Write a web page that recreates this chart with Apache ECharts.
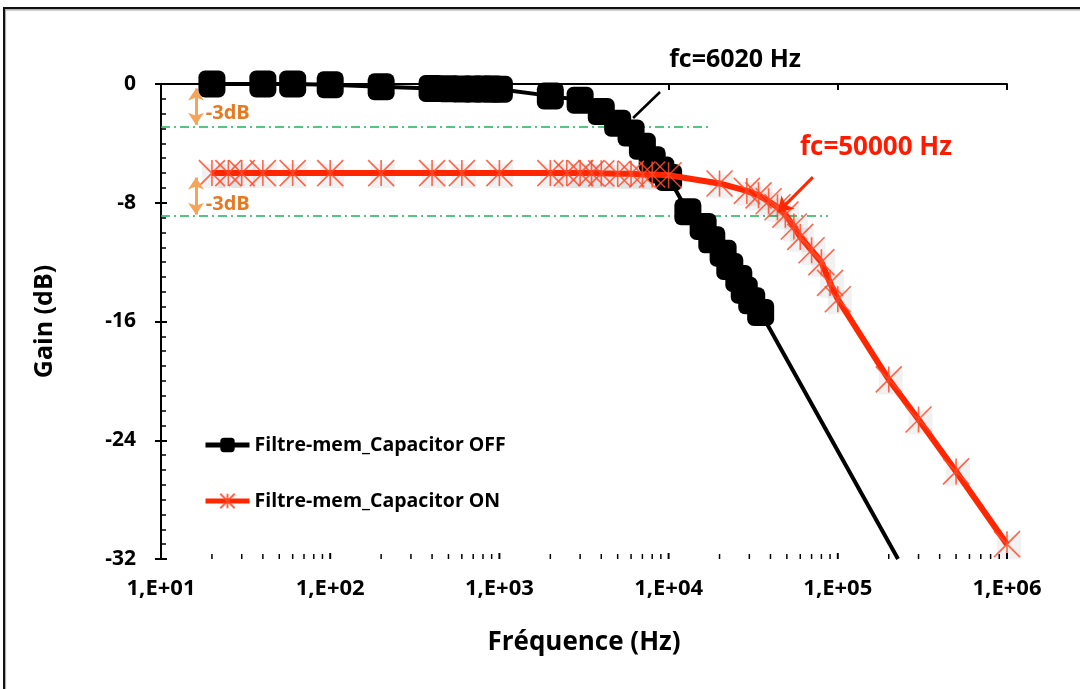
<!DOCTYPE html>
<html><head><meta charset="utf-8">
<script src="https://cdn.jsdelivr.net/npm/echarts@6/dist/echarts.min.js"></script>
<style>html,body{margin:0;padding:0;background:#fff}#c{width:1080px;height:689px}</style>
</head><body><div id="c"></div>
<script>
// ---- data ----
const freqOff = [20,40,60,100,200,400,500,600,700,800,900,1000,2000,3000,4000,5000,6000,7000,8000,9000,10000,13000,16000,18000,21000,23000,26000,28000,31000,35000,227000];
const gainOff = [0,0,0,-0.05,-0.18,-0.3,-0.32,-0.34,-0.34,-0.34,-0.34,-0.35,-0.8,-1.1,-1.85,-2.65,-3.3,-4.2,-5.1,-5.8,-6.3,-8.6,-9.6,-10.5,-11.4,-12.3,-13.1,-13.9,-14.6,-15.4,-32];
const freqOn = [20,25,30,40,60,100,200,400,600,1000,2000,2500,3000,3500,4000,5000,6000,7000,8000,10000,20000,29000,34000,39000,44000,49000,55000,60000,70000,80000,90000,100000,200000,300000,500000,1000000];
const gainOn = [-6.0,-6.0,-6.0,-6.0,-6.0,-6.0,-6.0,-6.0,-6.0,-6.0,-6.0,-6.0,-6.0,-6.0,-6.02,-6.05,-6.05,-6.1,-6.1,-6.15,-6.7,-7.2,-7.5,-7.9,-8.3,-8.8,-9.6,-10.3,-11.2,-12.0,-13.4,-14.5,-19.9,-22.6,-26.1,-31.0];
const seriesNames = ['Filtre-mem_Capacitor OFF', 'Filtre-mem_Capacitor ON'];
const xDecades = [10,100,1000,10000,100000,1000000];
const ref3dbOff = [[10,-2.9],[17600,-2.9]];
const ref3dbOn = [[10,-8.9],[87500,-8.9]];
const arrowOff = [[16.1,-0.3],[16.1,-2.75]];
const arrowOn = [[16.1,-6.3],[16.1,-8.8]];
const pointerOff = [[8900,-0.54],[6170,-2.29]];
const pointerOn = [[71300,-6.27],[44400,-8.63]];
const labelFcOff = {text:'fc=6020 Hz', at:[24700,1.62]};
const labelFcOn = {text:'fc=50000 Hz', at:[168000,-4.31]};
const label3dbOff = {text:'-3dB', at:[18.4,-1.95]};
const label3dbOn = {text:'-3dB', at:[18.4,-8.09]};

const FONT = '"Open Sans"';
const xMinorTicks = [];
xDecades.slice(0,-1).forEach(d => { for (let k=2;k<=9;k++) xMinorTicks.push(d*k); });

const chart = echarts.init(document.getElementById('c'), null, {renderer:'canvas'});
const pairs = (xs, ys) => xs.map((x,i) => [x, ys[i]]);
const offData = pairs(freqOff, gainOff).map((p,i) => i === freqOff.length-1 ? {value:p, symbol:'none'} : p);
const onData = pairs(freqOn, gainOn);
const starPath = 'path://M0,0L20,20M20,0L0,20M10,0L10,20';

const option = {
  animation: false,
  backgroundColor: '#fff',
  grid: {left:161, right:73, top:84, bottom:130, containLabel:false},
  legend: {
    data: seriesNames, orient:'vertical', left:198, top:430, itemGap:36,
    itemWidth:44, itemHeight:18,
    lineStyle:{width:5},
    textStyle: {fontFamily:FONT, fontWeight:'bold', fontSize:19.5, color:'#000'}
  },
  xAxis: {
    type:'log', logBase:10, min:10, max:1000000,
    name:'Fréquence (Hz)', nameLocation:'middle', nameGap:71,
    nameTextStyle:{fontFamily:FONT, fontWeight:'bold', fontSize:26, color:'#000'},
    axisLine:{show:true, lineStyle:{color:'#000', width:2}},
    axisTick:{show:true, length:6, lineStyle:{color:'#000', width:2}},
    axisLabel:{fontFamily:FONT, fontWeight:'bold', fontSize:22, color:'#000', margin:19,
      formatter: v => { const e = Math.round(Math.log10(v)); return '1,E+' + (e<10?'0':'') + e; }},
    splitLine:{show:false}
  },
  yAxis: [{
    type:'value', min:-32, max:0, interval:8,
    name:'Gain (dB)', nameLocation:'middle', nameGap:104, nameRotate:90,
    nameTextStyle:{fontFamily:FONT, fontWeight:'bold', fontSize:25, color:'#000'},
    axisLine:{show:true, lineStyle:{color:'#000', width:2}},
    axisTick:{show:true, inside:true, length:6, lineStyle:{color:'#000', width:2}},
    minorTick:{show:true, splitNumber:8, length:5, lineStyle:{color:'#000', width:1.5}},
    axisLabel:{fontFamily:FONT, fontWeight:'bold', fontSize:21, color:'#000', margin:25},
    splitLine:{show:false}
  },{
    type:'value', min:-32, max:0, interval:8, position:'left',
    axisLine:{show:false}, axisLabel:{show:false}, splitLine:{show:false},
    axisTick:{show:true, length:6, lineStyle:{color:'#000', width:2}}
  }],
  series: [
    {
      name:'ref-off', type:'line', data:ref3dbOff, symbol:'none', z:1, silent:true,
      lineStyle:{color:'#1DB35E', width:1.5, type:[9,4,2,4]},
      markLine:{
        silent:true, symbol:['arrow','arrow'], symbolSize:[12,12], label:{show:false},
        lineStyle:{color:'#F5A55A', width:3, type:'solid'},
        data:[[{coord:arrowOff[0]},{coord:arrowOff[1]}],[{coord:arrowOn[0]},{coord:arrowOn[1]}]]
      }
    },
    {
      name:'ref-on', type:'line', data:ref3dbOn, symbol:'none', z:1, silent:true,
      lineStyle:{color:'#1DB35E', width:1.5, type:[9,4,2,4]}
    },
    {
      name:seriesNames[0], type:'line', data:offData, z:2,
      symbol:'roundRect', symbolSize:27,
      itemStyle:{color:'#000'},
      lineStyle:{color:'#000', width:4},
      markLine:{
        silent:true, symbol:['none','none'], label:{show:false},
        lineStyle:{color:'#000', width:2.5, type:'solid'},
        data:[[{coord:pointerOff[0]},{coord:pointerOff[1]}]]
      }
    },
    {
      name:'on-shadow', type:'line', data:onData, z:2.5, silent:true,
      symbol:'rect', symbolSize:24, symbolOffset:[2,3],
      itemStyle:{color:'rgba(0,0,0,0.055)'},
      lineStyle:{width:0, opacity:0}
    },
    {
      name:seriesNames[1], type:'line', data:onData, z:3,
      symbol:starPath, symbolSize:26,
      itemStyle:{color:'rgba(255,75,45,0.85)', borderColor:'rgba(255,75,45,0.85)', borderWidth:1.6},
      lineStyle:{color:'#FF2600', width:6},
      markLine:{
        silent:true, symbol:['none','arrow'], symbolSize:14, label:{show:false},
        lineStyle:{color:'#FF2600', width:3, type:'solid'},
        data:[[{coord:pointerOn[0]},{coord:pointerOn[1]}]]
      }
    },
    {
      name:'xticks', type:'custom', silent:true, z:5,
      data: xMinorTicks.map(f => [f, -32]).concat(xDecades.map(f => [f, -32])),
      encode:{x:0, y:1},
      renderItem: (params, api) => {
        const f = api.value(0);
        const p = api.coord([f, api.value(1)]);
        const major = Math.abs(Math.log10(f) - Math.round(Math.log10(f))) < 1e-9;
        const len = major ? 6 : 5;
        return {type:'line', shape:{x1:p[0], y1:p[1], x2:p[0], y2:p[1]-len},
          style:{stroke:'#000', lineWidth: major ? 2 : 1.5}};
      }
    }
  ]
};
chart.setOption(option);

const toPx = c => chart.convertToPixel({gridIndex:0}, c);
const txt = (lab, color, size, align) => {
  const p = toPx(lab.at);
  return {type:'text', x:p[0], y:p[1], z:100,
    style:{text:lab.text, fill:color, font:'bold ' + size + 'px ' + FONT, textAlign:align, textVerticalAlign:'middle'}};
};
chart.setOption({
  graphic: [
    {type:'rect', shape:{x:4, y:8, width:1200, height:800}, z:-1, silent:true,
      style:{fill:'none', stroke:'#111', lineWidth:2, shadowColor:'rgba(0,0,0,0.35)', shadowOffsetX:1, shadowOffsetY:1.5, shadowBlur:1}},
    txt(labelFcOff, '#000', 25, 'center'),
    txt(labelFcOn, '#FF1A00', 26, 'center'),
    txt(label3dbOff, '#E57A22', 20, 'left'),
    txt(label3dbOn, '#E57A22', 20, 'left')
  ]
});
</script></body></html>
